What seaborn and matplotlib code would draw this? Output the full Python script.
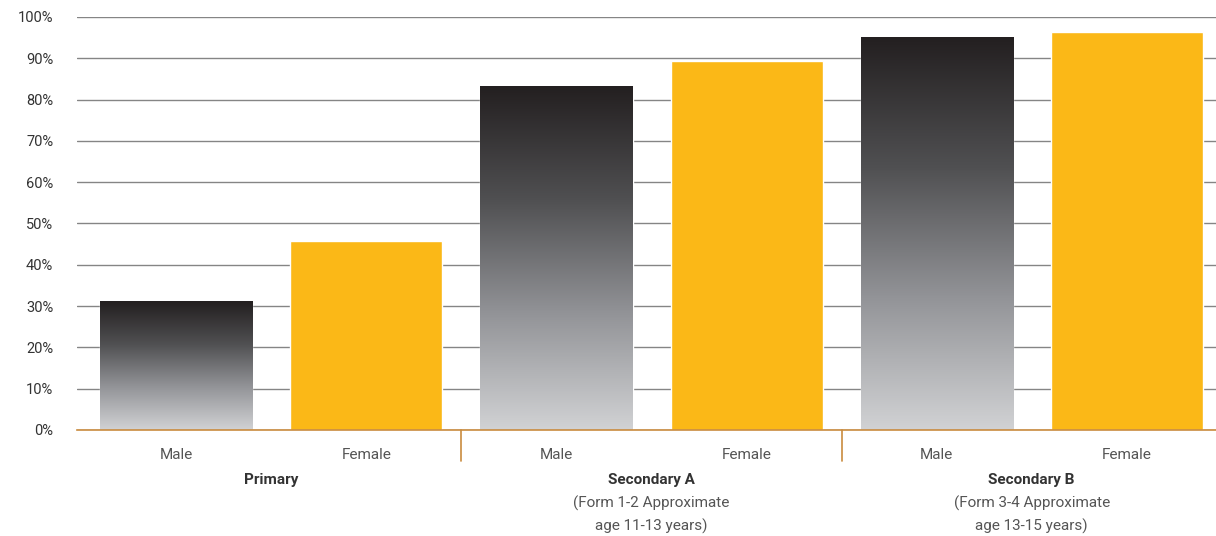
import numpy as np
import pandas as pd
import matplotlib
matplotlib.use("Agg")
import matplotlib.pyplot as plt
import seaborn as sns
from matplotlib.colors import LinearSegmentedColormap
from matplotlib.transforms import blended_transform_factory

# ---- data ----
groups = ["Primary", "Secondary A", "Secondary B"]
group_sub = [[], ["(Form 1-2 Approximate", "age 11-13 years)"], ["(Form 3-4 Approximate", "age 13-15 years)"]]
sexes = ["Male", "Female"]
male_values = [31.2, 83.3, 95.2]
female_values = [45.8, 89.3, 96.4]
y_ticks = [0, 10, 20, 30, 40, 50, 60, 70, 80, 90, 100]

rows = []
for g, m, f in zip(groups, male_values, female_values):
    rows.append({"cat": f"{g} Male", "sex": "Male", "value": m})
    rows.append({"cat": f"{g} Female", "sex": "Female", "value": f})
df = pd.DataFrame(rows)

sns.set_theme(style="white")
plt.rcParams["font.family"] = ["Roboto", "DejaVu Sans"]

fig = plt.figure(figsize=(12.16, 5.36), dpi=100)
ax = fig.add_axes([0.0633, 0.1978, 0.9367, 0.7705])

female_col = "#fbb817"
male_col = "#555555"
palette = {c: (male_col if s == "Male" else female_col) for c, s in zip(df["cat"], df["sex"])}
sns.barplot(data=df, x="cat", y="value", hue="cat", palette=palette, width=0.8,
            saturation=1, legend=False, ax=ax, zorder=2)

# gradient on male bars
cmap = LinearSegmentedColormap.from_list("g", ["#d1d2d4", "#939498", "#505052", "#231f20"])
grad = np.linspace(0, 1, 256).reshape(-1, 1)
for patch, sex in zip(ax.patches, df["sex"]):
    if sex != "Male":
        continue
    x0, y0 = patch.get_x(), patch.get_y()
    w, h = patch.get_width(), patch.get_height()
    im = ax.imshow(grad, extent=[x0, x0 + w, y0, y0 + h], origin="lower",
                   cmap=cmap, aspect="auto", zorder=3)
    im.set_clip_path(patch)
ax.set_ylim(0, 100)
ax.set_xlim(-0.523, 5.47)

# grid
ax.set_yticks(y_ticks)
ax.set_yticklabels([f"{v}%" for v in y_ticks])
ax.yaxis.grid(True, color="#858585", linewidth=1.0)
ax.xaxis.grid(False)
ax.set_axisbelow(True)

for s in ["top", "right", "left"]:
    ax.spines[s].set_visible(False)
spine_col = "#c98b3e"
ax.spines["bottom"].set_color(spine_col)
ax.spines["bottom"].set_linewidth(1.2)
ax.spines["bottom"].set_zorder(5)

ax.tick_params(axis="y", length=0, pad=17, labelsize=10.5, labelcolor="#333333")
ax.tick_params(axis="x", length=0, pad=13, labelsize=11, labelcolor="#555555")
ax.set_xticks(range(6))
ax.set_xticklabels(list(df["sex"]))
ax.set_xlabel("")
ax.set_ylabel("")

trans = blended_transform_factory(ax.transData, ax.transAxes)
for xs in [1.5, 3.5]:
    ax.plot([xs, xs], [0, -0.075], color=spine_col, lw=1.2, transform=trans, clip_on=False)

sub_y = [-0.177, -0.233]
for i, (g, sub) in enumerate(zip(groups, group_sub)):
    xc = 2 * i + 0.5
    ax.text(xc, -0.121, g, transform=trans, ha="center", va="center",
            fontsize=11, fontweight="bold", color="#333333")
    for line, yy in zip(sub, sub_y):
        ax.text(xc, yy, line, transform=trans, ha="center", va="center",
                fontsize=11, color="#555555")

fig.savefig("out.png", dpi=100)
